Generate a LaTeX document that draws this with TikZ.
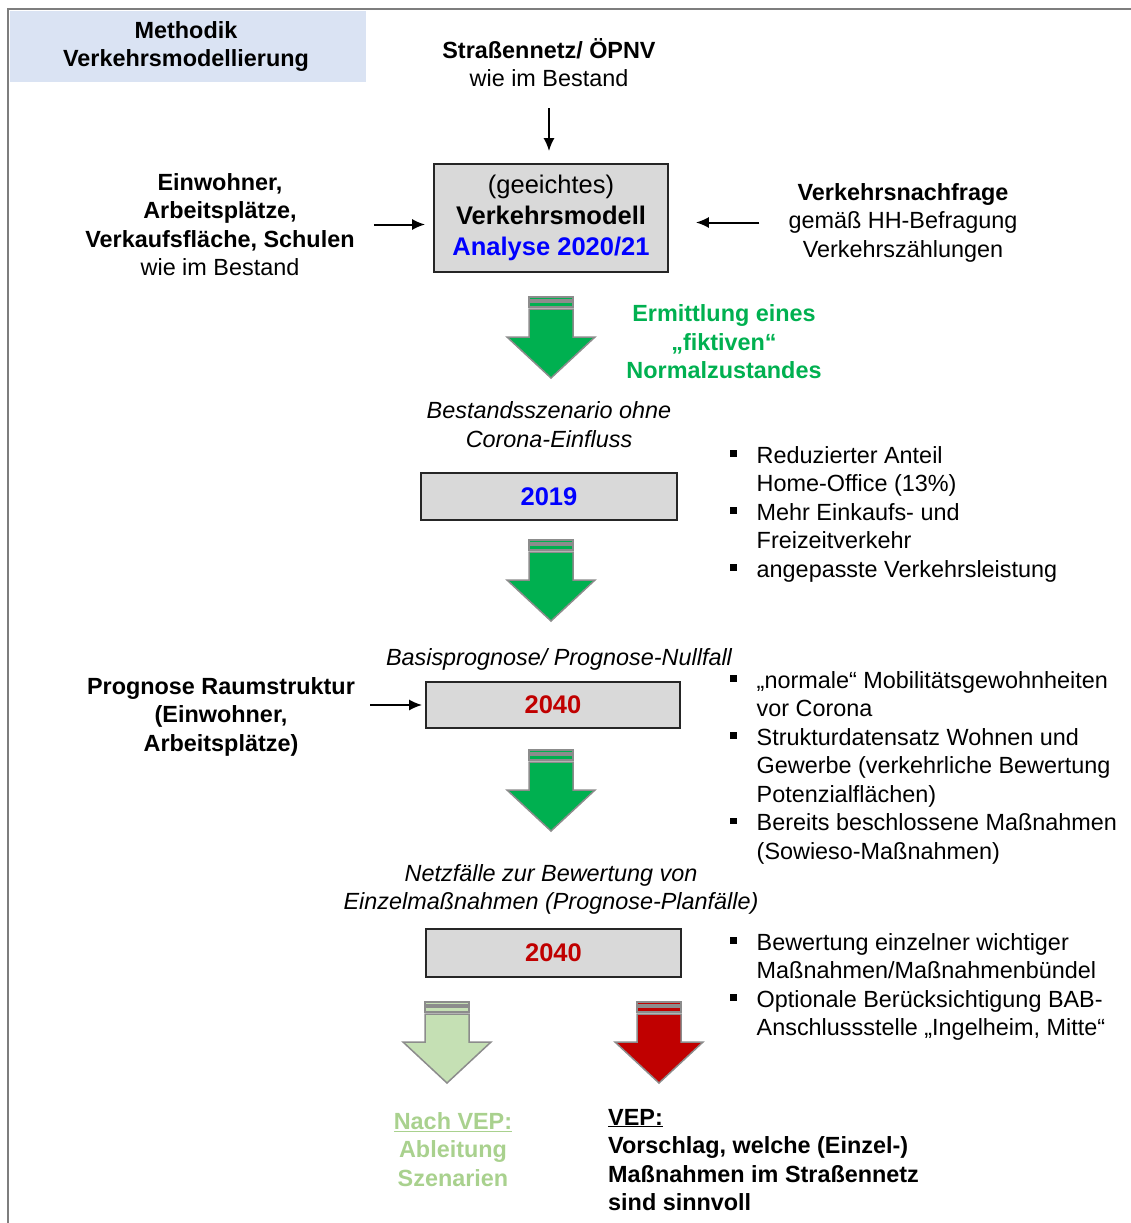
\documentclass[tikz,border=0pt]{standalone}
\usepackage{fontspec}
\setmainfont{Liberation Sans}
\usepackage{tikz}
\usetikzlibrary{arrows.meta}
\pgfdeclarelayer{bg}
\pgfsetlayers{bg,main}

\definecolor{boxgrey}{HTML}{D9D9D9}
\definecolor{titleblue}{HTML}{DAE3F3}
\definecolor{vgreen}{HTML}{00B050}
\definecolor{paleg}{HTML}{C5E0B4}
\definecolor{paletext}{HTML}{A9D18E}
\definecolor{vred}{HTML}{C00000}
\definecolor{vblue}{HTML}{0000FF}
\definecolor{rimgrey}{HTML}{8C8C8C}

\newcommand\txtsize{\fontsize{23.4}{28.5}\selectfont}
\newcommand\boxsize{\fontsize{25.5}{31}\selectfont}
\newcommand\sqbullet{\rule[6.5pt]{6.5pt}{6.5pt}}

\tikzset{
    txt/.style={inner sep=0pt, align=center, font=\txtsize},
    bullets/.style={inner sep=0pt, anchor=base west, font=\txtsize},
    modelbox/.style={draw=black!85, fill=boxgrey, line width=1.6pt, minimum width=234pt, minimum height=108pt, align=center, font=\boxsize},
    numbox/.style={draw=black!85, fill=boxgrey, line width=1.6pt, minimum height=47pt, font=\boxsize\bfseries},
    conn/.style={-{Latex[length=13pt,width=11pt]}, line width=2pt},
    arrowline/.style={draw=rimgrey, line width=1.5pt, line join=miter}
}

% block arrow: x, top y, fill
\newcommand\blockarrow[3]{%
    \draw[arrowline, fill=#3] (#1-22, #2) rectangle (#1+22, #2+3);
    \draw[arrowline, fill=#3] (#1-22, #2+5) rectangle (#1+22, #2+10);
    \draw[arrowline, fill=#3] (#1-22, #2+12) -- (#1-22, #2+40) -- (#1-44, #2+40)
        -- (#1, #2+81) -- (#1+44, #2+40) -- (#1+22, #2+40) -- (#1+22, #2+12) -- cycle;
}

\begin{document}
\begin{tikzpicture}[x=1pt, y=-1pt]
    \useasboundingbox (0, 0) rectangle (1131, 1223);
    \draw[rimgrey!90!black, line width=2.5pt] (8, 1223) -- (8, 9) -- (1131, 9);
    \fill[titleblue] (10, 11) rectangle (366, 82);

    \node (title) [txt, font=\txtsize\bfseries] at (186, 46.5) {Methodik\\Verkehrsmodellierung};
    \node (strasse) [txt] at (549, 62.5) {\textbf{Straßennetz/ ÖPNV}\\wie im Bestand};
    \node (model) [modelbox] at (551, 218) {\rule{0pt}{6pt}(geeichtes)\\\textbf{Verkehrsmodell}\\\textcolor{vblue}{\textbf{Analyse 2020/21}}};
    \node (einw) [txt] at (220, 224.5) {\textbf{Einwohner,}\\\textbf{Arbeitsplätze,}\\\textbf{Verkaufsfläche, Schulen}\\wie im Bestand};
    \node (nachfrage) [txt] at (903, 222.5) {\textbf{Verkehrsnachfrage}\\gemäß HH-Befragung\\Verkehrszählungen};

    \blockarrow{551}{297}{vgreen}
    \node (fiktiv) [txt, text=vgreen, font=\txtsize\bfseries] at (724, 342) {Ermittlung eines\\„fiktiven“\\Normalzustandes};

    \node (bestand) [txt, font=\txtsize\itshape] at (549, 424.5) {Bestandsszenario ohne\\Corona-Einfluss};
    \node (y2019) [numbox, minimum width=256pt, text=vblue] at (549, 496.5) {2019};
    \node (list1) [bullets] at (730, 463) {\begin{tabular}[t]{@{}l@{\hspace{20pt}}l@{}}
        \sqbullet & Reduzierter Anteil\\
                  & Home-Office (13\%)\\
        \sqbullet & Mehr Einkaufs- und\\
                  & Freizeitverkehr\\
        \sqbullet & angepasste Verkehrsleistung
    \end{tabular}};

    \blockarrow{551}{540}{vgreen}

    \node (basis) [txt, font=\txtsize\itshape] at (559, 659) {Basisprognose/ Prognose-Nullfall};
    \node (prog) [numbox, minimum width=254pt, minimum height=46pt, text=vred] at (553, 705) {2040};
    \node (raum) [txt, font=\txtsize\bfseries] at (221, 716.5) {Prognose Raumstruktur\\(Einwohner,\\Arbeitsplätze)};
    \node (list2) [bullets] at (730, 688) {\begin{tabular}[t]{@{}l@{\hspace{20pt}}l@{}}
        \sqbullet & „normale“ Mobilitätsgewohnheiten\\
                  & vor Corona\\
        \sqbullet & Strukturdatensatz Wohnen und\\
                  & Gewerbe (verkehrliche Bewertung\\
                  & Potenzialflächen)\\
        \sqbullet & Bereits beschlossene Maßnahmen\\
                  & (Sowieso-Maßnahmen)
    \end{tabular}};

    \blockarrow{551}{750}{vgreen}

    \node (netz) [txt, font=\txtsize\itshape] at (551, 889.5) {Netzfälle zur Bewertung von\\Einzelmaßnahmen (Prognose-Planfälle)};
    \node (plan) [numbox, minimum width=255pt, minimum height=48pt, text=vred] at (553.5, 953) {2040};
    \node (list3) [bullets] at (730, 950) {\begin{tabular}[t]{@{}l@{\hspace{20pt}}l@{}}
        \sqbullet & Bewertung einzelner wichtiger\\
                  & Maßnahmen/Maßnahmenbündel\\
        \sqbullet & Optionale Berücksichtigung BAB-\\
                  & Anschlussstelle „Ingelheim, Mitte“
    \end{tabular}};

    \blockarrow{447}{1002}{paleg}
    \blockarrow{659}{1002}{vred}

    \node (nachvep) [txt, text=paletext, font=\txtsize\bfseries] at (453, 1149.5) {\underline{Nach VEP:}\\Ableitung\\Szenarien};
    \node (vep) [txt, align=left, anchor=west, font=\txtsize\bfseries] at (608, 1160) {\underline{VEP:}\\Vorschlag, welche (Einzel-)\\Maßnahmen im Straßennetz\\sind sinnvoll};

    \begin{pgfonlayer}{bg}
        \draw[conn, shorten <=21pt, shorten >=12pt] (strasse.south) -- (strasse.south |- model.north);
        \draw[conn, shorten <=19pt, shorten >=8pt] (einw.east) -- (model.west |- einw.east);
        \draw[conn, shorten <=29pt, shorten >=27pt] (nachfrage.west) -- (model.east |- nachfrage.west);
        \draw[conn, shorten <=15pt, shorten >=3pt] (raum.east |- prog.west) -- (prog.west);
    \end{pgfonlayer}
\end{tikzpicture}
\end{document}
